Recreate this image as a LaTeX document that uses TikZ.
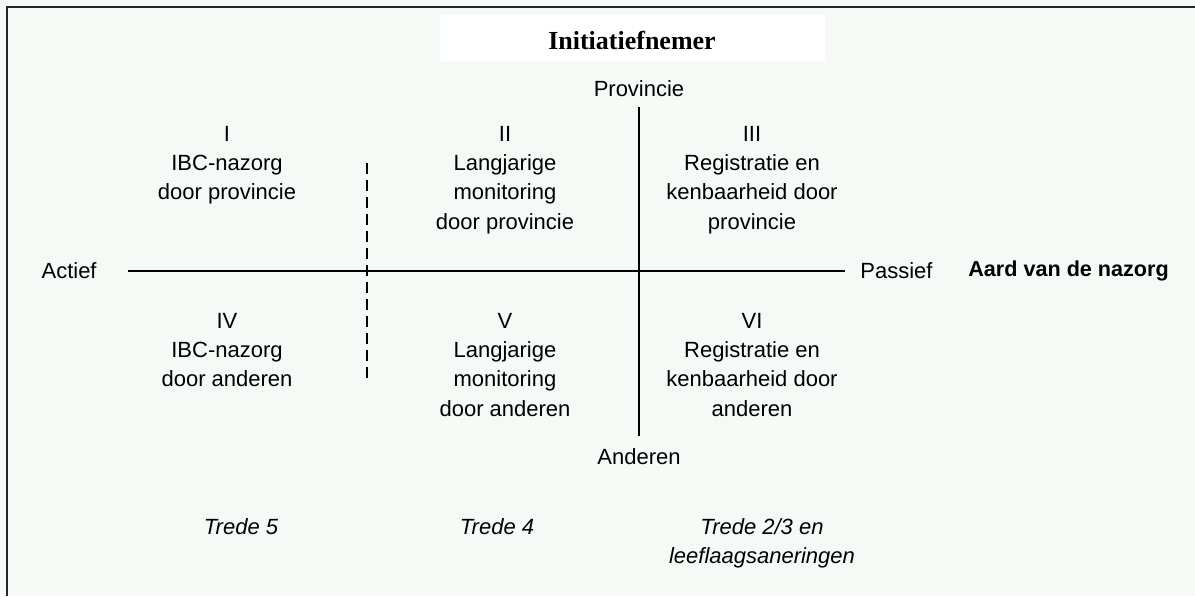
\documentclass[tikz,border=0pt]{standalone}
\usepackage{fontspec}
\setmainfont{Liberation Sans}
\newfontfamily\titlefont{Liberation Serif}
\usetikzlibrary{positioning}
\definecolor{bgmint}{RGB}{245,250,247}

\begin{document}
\begin{tikzpicture}[x=0.5pt, y=-0.5pt, font=\fontsize{11}{14.6}\selectfont, node distance=7.5pt, quad/.style={align=center, inner sep=0pt, anchor=north}, lbl/.style={inner sep=0pt}, trede/.style={align=center, inner sep=0pt, anchor=north, font=\fontsize{11}{14.6}\selectfont\itshape}, axis/.style={line width=1pt}]
\fill[bgmint] (0,0) rectangle (1195,596);
\useasboundingbox (0,0) rectangle (1195,596);
\draw[line width=1pt, draw=black!85] (7,596) -- (7,7) -- (1195,7);
\fill[white] (440,15) rectangle (825,61);
\node[lbl, font=\titlefont\fontsize{13}{15}\selectfont\bfseries] (title) at (632,40) {Initiatiefnemer};
\coordinate (top) at (639,107); \coordinate (bot) at (639,436);
\coordinate (lft) at (128,271); \coordinate (rgt) at (845,271);
\coordinate (dtop) at (367,163); \coordinate (dbot) at (367,378);
\draw[axis] (top) -- (bot); \draw[axis] (lft) -- (rgt);
\draw[line width=1pt, dash pattern=on 5.5pt off 3pt] (dtop) -- (dbot);
\node[lbl, above=5pt of top] (prov) {Provincie};
\node[lbl, below=6pt of bot] (and) {Anderen};
\node[lbl, left=15.5pt of lft] (act) {Actief};
\node[lbl, right=7.5pt of rgt] (pas) {Passief};
\node[lbl, right=17.5pt of pas, font=\fontsize{10.8}{14}\selectfont\bfseries] (aard) {Aard van de nazorg};
\node[quad] (q1) at (227,126) {I\\IBC-nazorg\\door provincie};
\node[quad] (q2) at (505,126) {II\\Langjarige\\monitoring\\door provincie};
\node[quad] (q3) at (752,126) {III\\Registratie en\\kenbaarheid door\\provincie};
\node[quad] (q4) at (227,313) {IV\\IBC-nazorg\\door anderen};
\node[quad] (q5) at (505,313) {V\\Langjarige\\monitoring\\door anderen};
\node[quad] (q6) at (752,313) {VI\\Registratie en\\kenbaarheid door\\anderen};
\node[trede] (t5) at (241,518) {Trede 5};
\node[trede] (t4) at (497,518) {Trede 4};
\node[trede] (t23) at (762,518) {Trede 2/3 en\\leeflaagsaneringen};
\end{tikzpicture}
\end{document}
